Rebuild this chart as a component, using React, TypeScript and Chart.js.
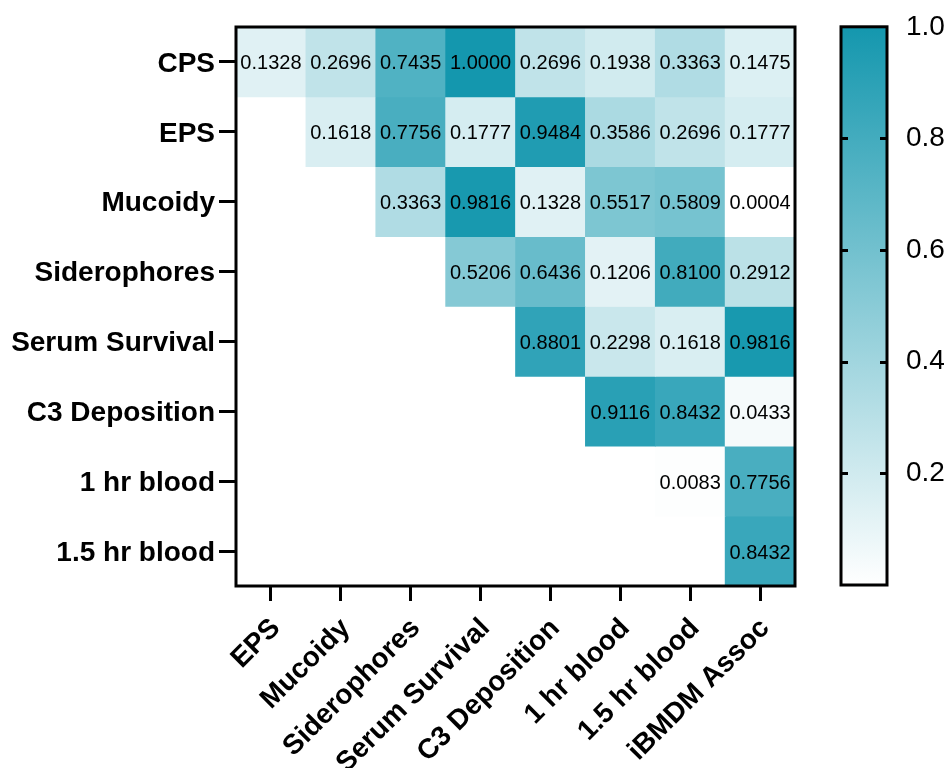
import React, { useEffect, useRef } from "react";
import { Chart, registerables } from "chart.js";

Chart.register(...registerables);

const rowLabels = ["CPS", "EPS", "Mucoidy", "Siderophores", "Serum Survival", "C3 Deposition", "1 hr blood", "1.5 hr blood"];
const colLabels = ["EPS", "Mucoidy", "Siderophores", "Serum Survival", "C3 Deposition", "1 hr blood", "1.5 hr blood", "iBMDM Assoc"];

// upper-triangle values, row r starts at column r
const rowCPS = [0.1328, 0.2696, 0.7435, 1.0, 0.2696, 0.1938, 0.3363, 0.1475];
const rowEPS = [0.1618, 0.7756, 0.1777, 0.9484, 0.3586, 0.2696, 0.1777];
const rowMucoidy = [0.3363, 0.9816, 0.1328, 0.5517, 0.5809, 0.0004];
const rowSiderophores = [0.5206, 0.6436, 0.1206, 0.81, 0.2912];
const rowSerum = [0.8801, 0.2298, 0.1618, 0.9816];
const rowC3 = [0.9116, 0.8432, 0.0433];
const row1hr = [0.0083, 0.7756];
const row15hr = [0.8432];

const rows = [rowCPS, rowEPS, rowMucoidy, rowSiderophores, rowSerum, rowC3, row1hr, row15hr];
const colorbarTicks = [0.2, 0.4, 0.6, 0.8, 1.0];

const LOW = [255, 255, 255];
const HIGH = [20, 151, 174];
function colorFor(v: number) {
  const c = LOW.map((l, i) => Math.round(l + (HIGH[i] - l) * v));
  return `rgb(${c[0]},${c[1]},${c[2]})`;
}

const FONT = "'Liberation Sans', Arial, Helvetica, sans-serif";

const framePlugin = {
  id: "frame",
  afterDraw(chart: any) {
    const { ctx, chartArea } = chart;
    ctx.save();
    ctx.strokeStyle = "#000";
    ctx.lineWidth = 3;
    ctx.strokeRect(chartArea.left, chartArea.top, chartArea.right - chartArea.left, chartArea.bottom - chartArea.top);
    ctx.restore();
  },
};

const cellTextPlugin = {
  id: "cellText",
  afterDatasetsDraw(chart: any) {
    const { ctx } = chart;
    ctx.save();
    ctx.fillStyle = "#000";
    ctx.font = `20px ${FONT}`;
    ctx.textAlign = "center";
    ctx.textBaseline = "middle";
    chart.data.datasets.forEach((ds: any, di: number) => {
      const meta = chart.getDatasetMeta(di);
      meta.data.forEach((el: any, i: number) => {
        const v = ds.values[i];
        if (v === null || v === undefined) return;
        ctx.fillText(v.toFixed(4), el.x, (el.y + el.base) / 2 + 2);
      });
    });
    ctx.restore();
  },
};

const colorbarPlugin = {
  id: "cbar",
  afterDraw(chart: any) {
    const { ctx, chartArea } = chart;
    const y = chart.scales.y;
    ctx.save();
    ctx.strokeStyle = "#000";
    ctx.lineWidth = 3;
    ctx.strokeRect(chartArea.left, chartArea.top, chartArea.right - chartArea.left, chartArea.bottom - chartArea.top);
    colorbarTicks.forEach((t) => {
      if (t >= 1) return;
      const py = Math.round(y.getPixelForValue(t)) + 0.5;
      ctx.beginPath();
      ctx.moveTo(chartArea.left, py);
      ctx.lineTo(chartArea.left + 7, py);
      ctx.moveTo(chartArea.right, py);
      ctx.lineTo(chartArea.right - 7, py);
      ctx.stroke();
    });
    ctx.restore();
  },
};

export default function App() {
  const mainRef = useRef<HTMLCanvasElement>(null);
  const cbRef = useRef<HTMLCanvasElement>(null);

  useEffect(() => {
    const datasets = rows.map((vals, r) => {
      const full = colLabels.map((_, c) => (c >= r ? vals[c - r] : null));
      return {
        label: rowLabels[r],
        data: full.map((v) => (v === null ? null : [r, r + 1])),
        values: full,
        backgroundColor: full.map((v) => (v === null ? "rgba(0,0,0,0)" : colorFor(v))),
        borderWidth: 0,
        barPercentage: 1,
        categoryPercentage: 1,
        grouped: false,
      } as any;
    });

    const main = new Chart(mainRef.current!, {
      type: "bar",
      data: { labels: colLabels, datasets },
      plugins: [cellTextPlugin, framePlugin],
      options: {
        animation: false,
        responsive: false,
        maintainAspectRatio: false,
        layout: { padding: { top: 27, right: 35, left: 0, bottom: 0 } },
        plugins: { legend: { display: false }, tooltip: { enabled: false } },
        scales: {
          x: {
            type: "category",
            offset: true,
            grid: { display: true, drawOnChartArea: false, drawTicks: true, tickLength: 15, tickWidth: 3, tickColor: "#000", offset: false },
            border: { display: false },
            ticks: { color: "#000", font: { family: FONT, size: 28, weight: "bold" }, maxRotation: 45, minRotation: 45, padding: 11, labelOffset: 5, autoSkip: false },
            afterFit: (s: any) => { s.height = 182; },
          },
          y: {
            type: "linear",
            min: 0,
            max: 8,
            reverse: true,
            afterBuildTicks: (s: any) => { s.ticks = rowLabels.map((_, i) => ({ value: i + 0.5 })); },
            grid: { display: true, drawOnChartArea: false, drawTicks: true, tickLength: 17, tickWidth: 3, tickColor: "#000" },
            border: { display: false },
            ticks: { color: "#000", font: { family: FONT, size: 28, weight: "bold" }, padding: 4, labelOffset: 2, callback: (_v: any, i: number) => rowLabels[i] },
            afterFit: (s: any) => { s.width = 236; },
          },
        },
      } as any,
    });

    const cb = new Chart(cbRef.current!, {
      type: "bar",
      data: {
        labels: [""],
        datasets: [{
          data: [[0, 1]] as any,
          backgroundColor: (ctx: any) => {
            const ca = ctx.chart.chartArea;
            if (!ca) return colorFor(0.5);
            const g = ctx.chart.ctx.createLinearGradient(0, ca.bottom, 0, ca.top);
            g.addColorStop(0, colorFor(0));
            g.addColorStop(1, colorFor(1));
            return g;
          },
          borderWidth: 0,
          barPercentage: 1,
          categoryPercentage: 1,
        }],
      },
      plugins: [colorbarPlugin],
      options: {
        animation: false,
        responsive: false,
        maintainAspectRatio: false,
        layout: { padding: { top: 18, left: 41, bottom: 174, right: 0 } },
        plugins: { legend: { display: false }, tooltip: { enabled: false } },
        scales: {
          x: { display: false },
          y: {
            type: "linear",
            position: "right",
            min: 0,
            max: 1,
            afterBuildTicks: (s: any) => { s.ticks = colorbarTicks.map((v) => ({ value: v })); },
            grid: { display: false, drawTicks: false },
            border: { display: false },
            ticks: { color: "#000", font: { family: FONT, size: 28 }, padding: 19, callback: (v: any) => Number(v).toFixed(1) },
            afterFit: (s: any) => { s.width = 62; },
          },
        },
      } as any,
    });

    return () => {
      main.destroy();
      cb.destroy();
    };
  }, []);

  return (
    <div style={{ position: "fixed", left: 0, top: 0, width: 949, height: 768, background: "#fff", overflow: "hidden" }}>
      <canvas ref={mainRef} width={830} height={768} style={{ position: "absolute", left: 0, top: 0, width: 830, height: 768 }} />
      <canvas ref={cbRef} width={149} height={768} style={{ position: "absolute", left: 800, top: -9, width: 149, height: 768 }} />
    </div>
  );
}
